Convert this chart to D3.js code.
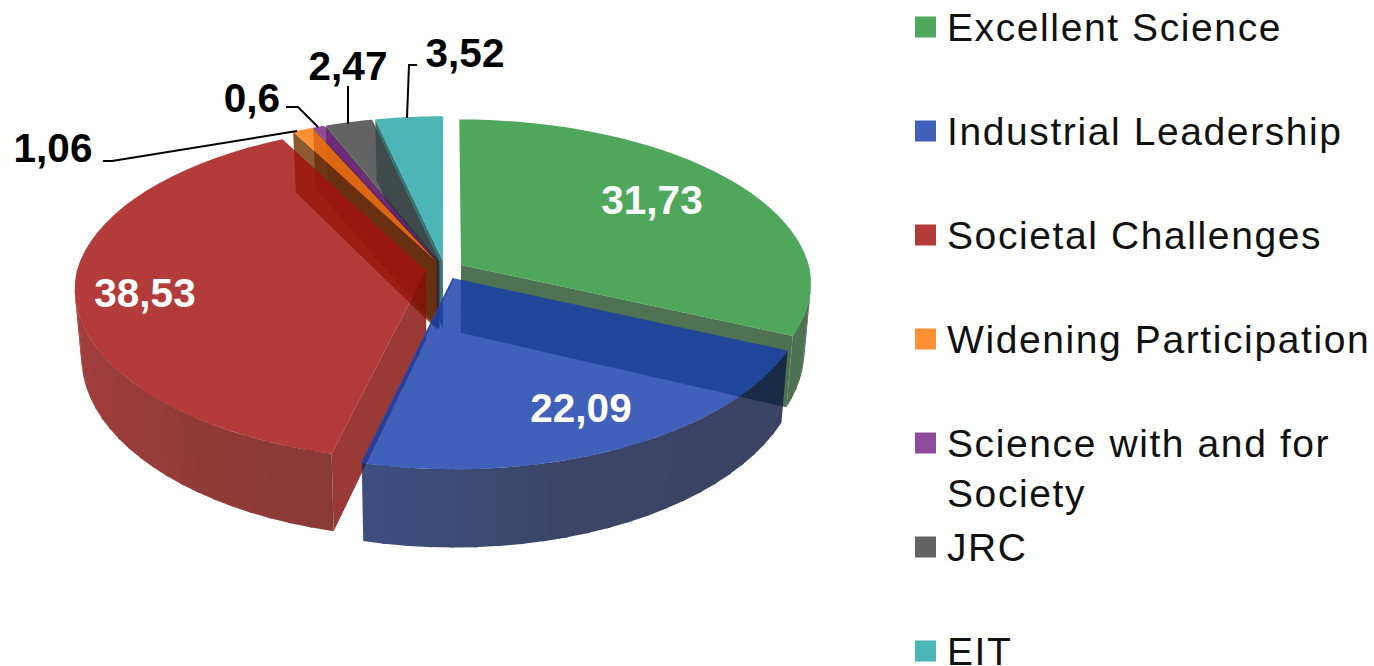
<!DOCTYPE html>
<html>
<head>
<meta charset="utf-8">
<script src="https://cdn.jsdelivr.net/npm/d3@7"></script>
<style>
  html, body { margin: 0; padding: 0; background: #fff; }
  svg { display: block; font-family: "Liberation Sans", Arial, sans-serif; }
</style>
</head>
<body>
<svg id="chart" width="1374" height="666"></svg>
<script>
// data, in percent
const categories = ["Excellent Science", "Industrial Leadership", "Societal Challenges", "Widening Participation", "Science with and for Society", "JRC", "EIT"];
const values = [31.73, 22.09, 38.53, 1.06, 0.6, 2.47, 3.52];
const topColors = ["#279436", "#173daa", "#a2110f", "#ff7806", "#762285", "#414141", "#24a5a8"];
const wallColors = ["#28532c", "#0f1d48", "#85100a", "#733605", "#3c0f46", "#282828", "#0b5555"];
const legendColors = ["#4ea75a", "#4160b9", "#b33c3a", "#ff9033", "#8f4a9b", "#636363", "#4cb5b8"];
const legendLines = [["Excellent Science"], ["Industrial Leadership"], ["Societal Challenges"], ["Widening Participation"], ["Science with and for", "Society"], ["JRC"], ["EIT"]];

const svg = d3.select("#chart");

// fake 3D: disc seen from above with a bit of perspective
const cx = 445, cy = 270, R = 349, Ry = 165, depth = 68, dist = 8, explode = 0.055, lean = 0.018, faceAlpha = 0.82;

const arcs = d3.pie().sort(null)(values);

function project(a, r, z, d) {
  const mid = (d.startAngle + d.endAngle) / 2;
  const u = r * Math.sin(a) + explode * Math.sin(mid);
  const v = -r * Math.cos(a) - explode * Math.cos(mid);
  const s = dist / (dist - v);
  // the front half grows less in width than in height
  const sx = v > 0 ? 1 + (s - 1) * 0.8 : s;
  return [cx + sx * u * R * (1 - z * lean), cy + s * (v * Ry + z * depth)];
}

const line = d3.line();

function topFace(d) {
  const steps = d3.range(0, 41).map(i => d.startAngle + (d.endAngle - d.startAngle) * i / 40);
  return line([project(0, 0, 0, d), ...steps.map(a => project(a, 1, 0, d))]) + "Z";
}

function radialWall(a, d) {
  return line([project(0, 0, 0, d), project(a, 1, 0, d), project(a, 1, 1, d), project(0, 0, 1, d)]) + "Z";
}

// outer wall shading, lighter to the left
const blueShade = d3.scaleLinear().domain([114, 165, 194]).range(["#0f1d42", "#0f1d48", "#152964"]);
const redShade = d3.scaleLinear().domain([194, 270]).range(["#700f0c", "#951612"]);
const greenShade = d3.scaleLinear().domain([90, 115]).range(["#28532c", "#28532c"]);
const shades = [greenShade, blueShade, redShade];

function outerWall(g, d, i) {
  // stay a little inside the silhouette so the wall doesn't darken the top face
  const from = Math.max(d.startAngle, 96 * Math.PI / 180);
  const to = Math.min(d.endAngle, 264 * Math.PI / 180);
  if (to <= from) return;
  const n = Math.ceil((to - from) / (3.5 * Math.PI / 180));
  const bands = d3.range(n).map(k => [from + (to - from) * k / n, from + (to - from) * (k + 1) / n]);
  const overlap = 0.6 * Math.PI / 180;
  g.selectAll(null)
    .data(bands)
    .enter()
    .append("path")
    .attr("d", b => {
      const b1 = Math.min(b[1] + overlap, to);
      return line([project(b[0], 1, 0, d), project(b1, 1, 0, d), project(b1, 1, 1, d), project(b[0], 1, 1, d)]) + "Z";
    })
    .attr("fill", b => {
      const deg = (b[0] + b[1]) / 2 * 180 / Math.PI;
      return shades[i] ? shades[i](deg) : wallColors[i];
    });
}

const pie = svg.append("g");

function drawWalls(i, wallAngle) {
  const d = arcs[i];
  const g = pie.append("g").attr("opacity", faceAlpha);
  outerWall(g, d, i);
  if (wallAngle !== null) {
    g.append("path").attr("d", radialWall(wallAngle, d)).attr("fill", wallColors[i]);
  }
}

function drawTop(i) {
  pie.append("path")
    .attr("d", topFace(arcs[i]))
    .attr("fill", topColors[i])
    .attr("fill-opacity", faceAlpha);
}

// green first, then the thin slices from the back, then red walls, blue, red top
drawWalls(0, arcs[0].endAngle);
drawTop(0);
[6, 5, 4, 3].forEach(i => drawWalls(i, arcs[i].startAngle));
[6, 5, 4, 3].forEach(drawTop);
drawWalls(2, arcs[2].startAngle);
drawWalls(1, null);
drawTop(1);
// dark edge of blue towards the red wall
pie.append("path")
  .attr("d", line([project(0, 0, 0, arcs[1]), project(arcs[1].endAngle, 1, 0, arcs[1])]))
  .attr("stroke", "#2445a8")
  .attr("stroke-width", 1.5)
  .attr("fill", "none");
drawTop(2);

// labels
const fmt = v => String(v).replace(".", ",");
const labelPos = [[652, 214, "#fff"], [581, 422, "#fff"], [145, 307, "#fff"], [53, 162, "#000"], [252, 112, "#000"], [348, 80, "#000"], [465, 67, "#000"]];
svg.append("g")
  .selectAll("text")
  .data(values)
  .enter()
  .append("text")
  .attr("x", (d, i) => labelPos[i][0])
  .attr("y", (d, i) => labelPos[i][1])
  .attr("fill", (d, i) => labelPos[i][2])
  .attr("text-anchor", "middle")
  .attr("font-weight", "bold")
  .attr("font-size", 40.5)
  .text(fmt);

// leader lines
const leaders = [
  [[103, 161], [112, 161], [297, 131]],
  [[286, 107], [298, 107], [318, 127]],
  [[348, 86], [348, 124]],
  [[417, 65], [409, 65], [407, 118]]
];
svg.append("g")
  .selectAll("path")
  .data(leaders)
  .enter()
  .append("path")
  .attr("d", d => line(d))
  .attr("fill", "none")
  .attr("stroke", "#000")
  .attr("stroke-width", 2);

// legend
const legendY = [27, 131, 235, 339, 443, 547, 651];
const legend = svg.append("g");
legendLines.forEach((lines, i) => {
  legend.append("rect")
    .attr("x", 915).attr("y", legendY[i] - 10.5)
    .attr("width", 21).attr("height", 21)
    .attr("fill", legendColors[i]);
  lines.forEach((t, k) => {
    legend.append("text")
      .attr("x", 947)
      .attr("y", legendY[i] + 13.5 + k * 50)
      .attr("font-size", 39)
      .attr("letter-spacing", 1.6)
      .attr("fill", "#111")
      .text(t);
  });
});
</script>
</body>
</html>
